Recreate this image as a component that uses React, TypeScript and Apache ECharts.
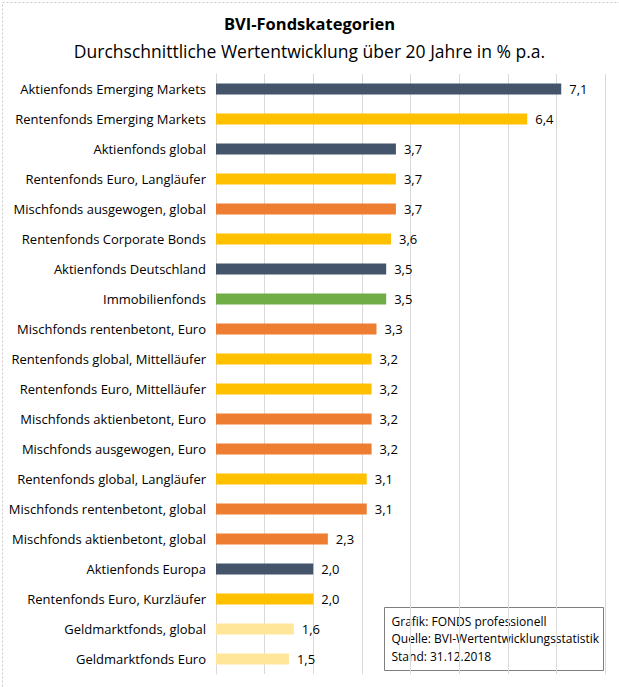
import React, { useEffect, useRef } from "react";
import * as echarts from "echarts";

const categories = [
  "Aktienfonds Emerging Markets",
  "Rentenfonds Emerging Markets",
  "Aktienfonds global",
  "Rentenfonds Euro, Langläufer",
  "Mischfonds ausgewogen, global",
  "Rentenfonds Corporate Bonds",
  "Aktienfonds Deutschland",
  "Immobilienfonds",
  "Mischfonds rentenbetont, Euro",
  "Rentenfonds global, Mittelläufer",
  "Rentenfonds Euro, Mittelläufer",
  "Mischfonds aktienbetont, Euro",
  "Mischfonds ausgewogen, Euro",
  "Rentenfonds global, Langläufer",
  "Mischfonds rentenbetont, global",
  "Mischfonds aktienbetont, global",
  "Aktienfonds Europa",
  "Rentenfonds Euro, Kurzläufer",
  "Geldmarktfonds, global",
  "Geldmarktfonds Euro",
];
const values = [7.1, 6.4, 3.7, 3.7, 3.7, 3.6, 3.5, 3.5, 3.3, 3.2, 3.2, 3.2, 3.2, 3.1, 3.1, 2.3, 2.0, 2.0, 1.6, 1.5];
const groups = [
  "aktien", "renten", "aktien", "renten", "misch", "renten", "aktien", "immo", "misch", "renten",
  "renten", "misch", "misch", "renten", "misch", "misch", "aktien", "renten", "geld", "geld",
];
const groupColors: Record<string, string> = {
  aktien: "#44546a",
  renten: "#ffc000",
  misch: "#ed7d31",
  immo: "#70ad47",
  geld: "#ffe699",
};
const sourceLines = ["Grafik: FONDS professionell", "Quelle: BVI-Wertentwicklungsstatistik", "Stand: 31.12.2018"];

const FONT = "'Open Sans', 'Noto Sans', sans-serif";

export default function App() {
  const ref = useRef<HTMLDivElement>(null);
  useEffect(() => {
    if (!ref.current) return;
    const chart = echarts.init(ref.current, null, { renderer: "svg" });
    chart.setOption({
      animation: false,
      backgroundColor: "#ffffff",
      title: [
        {
          text: "BVI-Fondskategorien",
          left: "center",
          top: 10,
          textStyle: { fontFamily: FONT, fontSize: 16.5, fontWeight: "bold", color: "#000" },
        },
        {
          text: "Durchschnittliche Wertentwicklung über 20 Jahre in % p.a.",
          left: "center",
          top: 37,
          textStyle: { fontFamily: FONT, fontSize: 17.5, fontWeight: "normal", color: "#000" },
        },
      ],
      grid: { left: 216, right: 14, top: 74, bottom: 13, containLabel: false },
      xAxis: {
        type: "value",
        min: 0,
        max: 8,
        interval: 1,
        axisLabel: { show: false },
        axisLine: { show: false },
        axisTick: { show: false },
        splitLine: { show: true, lineStyle: { color: "#d9d9d9", width: 1 } },
      },
      yAxis: {
        type: "category",
        inverse: true,
        data: categories,
        axisLine: { show: true, lineStyle: { color: "#d9d9d9" } },
        axisTick: { show: false },
        axisLabel: { fontFamily: FONT, fontSize: 13, color: "#000", margin: 10 },
      },
      series: [
        {
          type: "bar",
          data: values.map((v, i) => ({
            value: v,
            itemStyle: { color: groupColors[groups[i]] },
          })),
          barWidth: 11,
          label: {
            show: true,
            position: "right",
            distance: 8,
            fontFamily: FONT,
            fontSize: 13,
            color: "#000",
            formatter: (p: any) => p.value.toFixed(1).replace(".", ","),
          },
        },
      ],
      graphic: [
        {
          type: "rect",
          left: 0,
          top: 0,
          shape: { width: 618, height: 686 },
          style: { fill: "none", stroke: "#c8c8c8", lineWidth: 1, lineDash: [2, 2] },
          silent: true,
        },
        {
          type: "group",
          left: 384,
          top: 607,
          children: [
            {
              type: "rect",
              shape: { x: 0, y: 0, width: 219, height: 63 },
              style: { fill: "#ffffff", stroke: "#7f7f7f", lineWidth: 1 },
            },
            {
              type: "text",
              x: 7,
              y: 5,
              style: {
                text: sourceLines.join("\n"),
                fontFamily: FONT,
                fontSize: 12,
                lineHeight: 17.5,
                fill: "#000",
              },
            },
          ],
        },
      ],
    });
    return () => chart.dispose();
  }, []);
  return <div ref={ref} style={{ position: "absolute", left: 0, top: 0, width: 619, height: 687 }} />;
}
